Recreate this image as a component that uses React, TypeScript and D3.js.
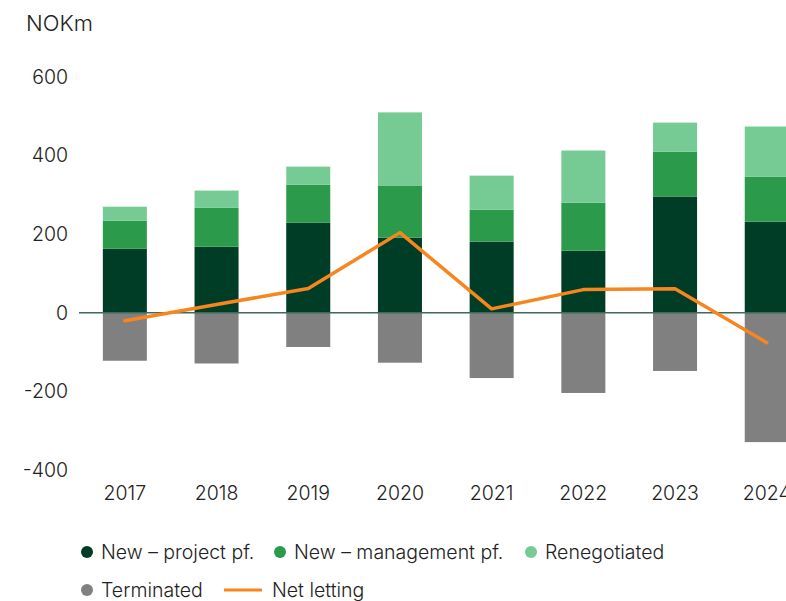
import * as d3 from 'd3';
import React, { useEffect, useRef } from 'react';

const years = ['2017', '2018', '2019', '2020', '2021', '2022', '2023', '2024'];
const newProject = [163, 168, 229, 191, 181, 158, 296, 232];
const newManagement = [71, 99, 97, 133, 81, 122, 114, 114];
const renegotiated = [36, 44, 46, 186, 87, 133, 74, 128];
const terminated = [-122, -129, -87, -127, -166, -204, -148, -329];
const netLetting = [-20, 21, 62, 204, 10, 59, 61, -76];
const yTicks = [-400, -200, 0, 200, 400, 600];

const colors = {
    project: '#003d27',
    management: '#2c9a4b',
    renegotiated: '#76cb94',
    terminated: '#808080',
    net: '#f7861e',
    zero: '#3d6b5a',
};

const FONT = 'Inter, "Liberation Sans", sans-serif';

const Chart = () => {
    const ref = useRef<SVGSVGElement>(null);

    useEffect(() => {
        const width = 786;
        const height = 601;
        const svg = d3.select(ref.current);
        svg.selectAll('*').remove();
        svg.attr('width', width).attr('height', height);

        const x = d3.scaleBand()
            .domain(years)
            .range([79, 812.6])
            .paddingInner(0.52)
            .paddingOuter(0.26);

        const y = d3.scaleLinear()
            .domain([-400, 600])
            .range([470, 77]);

        const text = (sel: any, size: number) => sel
            .attr('font-family', FONT)
            .attr('font-size', size)
            .attr('font-weight', 300)
            .attr('fill', '#222');

        // unit label
        svg.append('text')
            .attr('x', 26)
            .attr('y', 31)
            .call(text, 22)
            .text('NOKm');

        // y tick labels
        svg.append('g')
            .selectAll('text')
            .data(yTicks)
            .join('text')
            .attr('x', 68)
            .attr('y', d => y(d))
            .attr('dy', '0.35em')
            .attr('text-anchor', 'end')
            .call(text, 19.5)
            .text(d => d);

        // stacked positive bars
        const stacks = [
            { values: newProject, color: colors.project },
            { values: newManagement, color: colors.management },
            { values: renegotiated, color: colors.renegotiated },
        ];
        years.forEach((yr, i) => {
            let base = 0;
            stacks.forEach(s => {
                const top = base + s.values[i];
                svg.append('rect')
                    .attr('x', x(yr)!)
                    .attr('y', y(top))
                    .attr('width', x.bandwidth())
                    .attr('height', y(base) - y(top))
                    .attr('fill', s.color);
                base = top;
            });
            svg.append('rect')
                .attr('x', x(yr)!)
                .attr('y', y(0))
                .attr('width', x.bandwidth())
                .attr('height', y(terminated[i]) - y(0))
                .attr('fill', colors.terminated);
        });

        // zero line
        svg.append('line')
            .attr('x1', 79)
            .attr('x2', width)
            .attr('y1', y(0))
            .attr('y2', y(0))
            .attr('stroke', colors.zero)
            .attr('stroke-width', 1.5);

        // net letting line
        const line = d3.line<number>()
            .x((_, i) => x(years[i])! + x.bandwidth() / 2)
            .y(d => y(d));
        svg.append('path')
            .datum(netLetting)
            .attr('d', line)
            .attr('fill', 'none')
            .attr('stroke', colors.net)
            .attr('stroke-width', 3.5)
            .attr('stroke-linecap', 'round')
            .attr('stroke-linejoin', 'round');

        // x labels
        svg.append('g')
            .selectAll('text')
            .data(years)
            .join('text')
            .attr('x', d => x(d)! + x.bandwidth() / 2)
            .attr('y', 500)
            .attr('text-anchor', 'middle')
            .call(text, 19.5)
            .text(d => d);

        // legend
        const legend = [
            { label: 'New – project pf.', color: colors.project, x: 87, y: 552, type: 'dot' },
            { label: 'New – management pf.', color: colors.management, x: 280, y: 552, type: 'dot' },
            { label: 'Renegotiated', color: colors.renegotiated, x: 531, y: 552, type: 'dot' },
            { label: 'Terminated', color: colors.terminated, x: 87, y: 590, type: 'dot' },
            { label: 'Net letting', color: colors.net, x: 243, y: 590, type: 'line' },
        ];
        legend.forEach(l => {
            if (l.type === 'dot') {
                svg.append('circle')
                    .attr('cx', l.x)
                    .attr('cy', l.y)
                    .attr('r', 6)
                    .attr('fill', l.color);
            } else {
                svg.append('line')
                    .attr('x1', l.x - 19)
                    .attr('x2', l.x + 19)
                    .attr('y1', l.y)
                    .attr('y2', l.y)
                    .attr('stroke', l.color)
                    .attr('stroke-width', 3);
            }
            svg.append('text')
                .attr('x', l.type === 'dot' ? l.x + 14 : l.x + 29)
                .attr('y', l.y)
                .attr('dy', '0.35em')
                .call(text, 19.5)
                .text(l.label);
        });
    }, []);

    return <svg ref={ref} style={{ position: 'absolute', left: 0, top: 0 }}></svg>;
};

export default function App() {
    return <Chart />;
}
